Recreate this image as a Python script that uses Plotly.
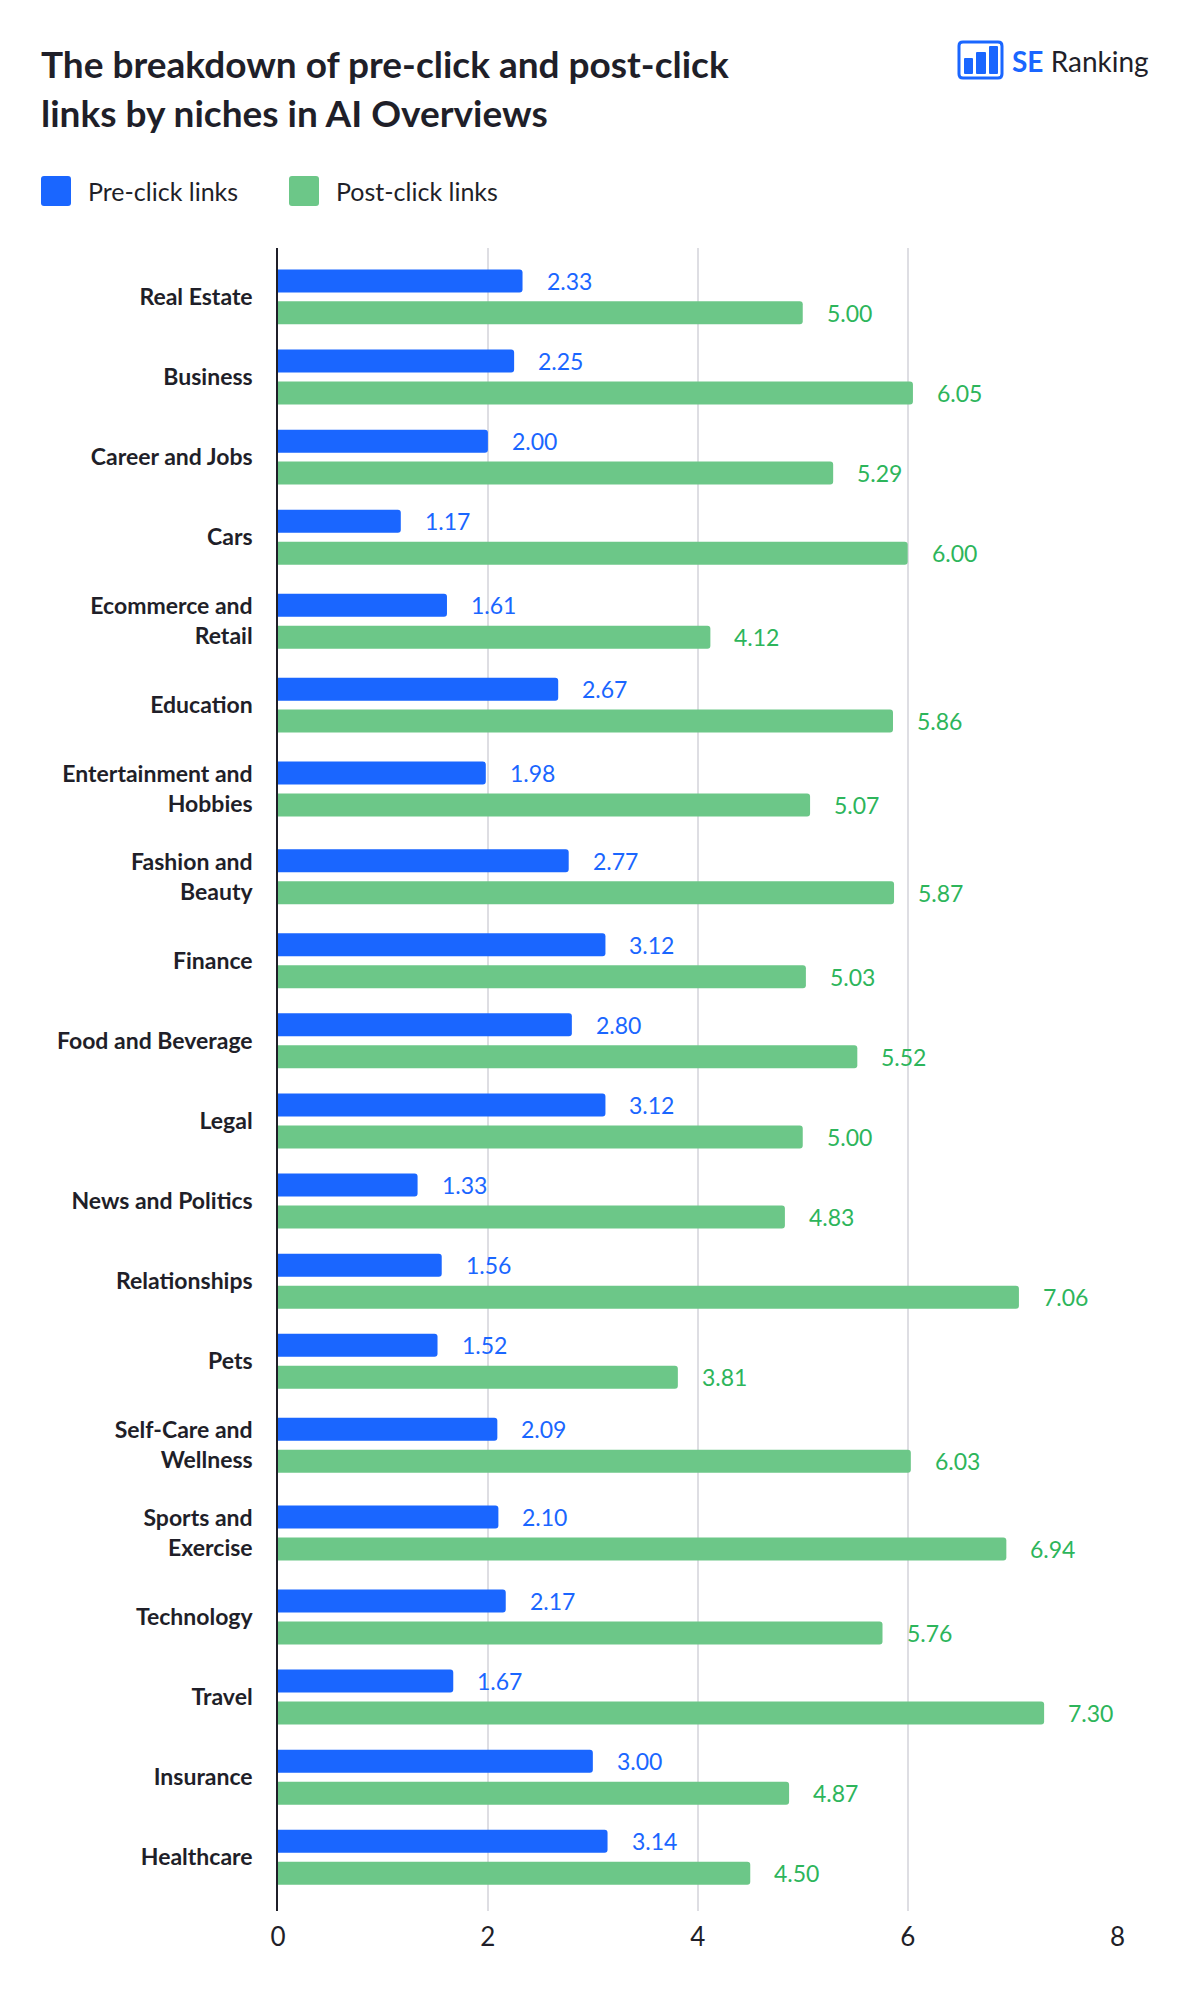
import plotly.graph_objects as go

# ---------------- data ----------------
categories = ["Real Estate", "Business", "Career and Jobs", "Cars",
              "Ecommerce and Retail", "Education", "Entertainment and Hobbies",
              "Fashion and Beauty", "Finance", "Food and Beverage", "Legal",
              "News and Politics", "Relationships", "Pets",
              "Self-Care and Wellness", "Sports and Exercise", "Technology",
              "Travel", "Insurance", "Healthcare"]
tick_labels = ["Real Estate", "Business", "Career and Jobs", "Cars",
               "Ecommerce and<br>Retail", "Education", "Entertainment and<br>Hobbies",
               "Fashion and<br>Beauty", "Finance", "Food and Beverage", "Legal",
               "News and Politics", "Relationships", "Pets",
               "Self-Care and<br>Wellness", "Sports and<br>Exercise", "Technology",
               "Travel", "Insurance", "Healthcare"]
pre_click = [2.33, 2.25, 2.00, 1.17, 1.61, 2.67, 1.98, 2.77, 3.12, 2.80,
             3.12, 1.33, 1.56, 1.52, 2.09, 2.10, 2.17, 1.67, 3.00, 3.14]
post_click = [5.00, 6.05, 5.29, 6.00, 4.12, 5.86, 5.07, 5.87, 5.03, 5.52,
              5.00, 4.83, 7.06, 3.81, 6.03, 6.94, 5.76, 7.30, 4.87, 4.50]
x_ticks = [0, 2, 4, 6, 8]

series_names = ["Pre-click links", "Post-click links"]

# ---------------- style ----------------
BLUE = "#1A66FF"
GREEN = "#6CC788"
GREEN_TXT = "#2DB55B"
DARK = "#1F1F29"
GRID = "#DEDEE3"
FONT = "Lato"

W, H = 1190, 1998
PL, PR, PT, PB = 278, 1118, 248, 1911   # plot area in pixels


def px2x(px):
    return (px - PL) / (PR - PL)


def py2y(py):
    return (PB - py) / (PB - PT)


def rr_path(x0, y0, x1, y1, r):
    """rounded rectangle path in paper coords from pixel coords"""
    pts = [
        ("M", [(x0 + r, y0)]),
        ("L", [(x1 - r, y0)]),
        ("Q", [(x1, y0), (x1, y0 + r)]),
        ("L", [(x1, y1 - r)]),
        ("Q", [(x1, y1), (x1 - r, y1)]),
        ("L", [(x0 + r, y1)]),
        ("Q", [(x0, y1), (x0, y1 - r)]),
        ("L", [(x0, y0 + r)]),
        ("Q", [(x0, y0), (x0 + r, y0)]),
    ]
    s = ""
    for cmd, ps in pts:
        s += cmd + " " + " ".join(f"{px2x(a):.5f},{py2y(b):.5f}" for a, b in ps) + " "
    return s + "Z"


# category band positions: two-line labels take a bit more room
band = [1.095 if "<br>" in t else 1.0 for t in tick_labels]
pos = [0.0]
for i in range(1, len(band)):
    pos.append(pos[-1] + (band[i - 1] + band[i]) / 2)

BAR_W = 0.287
GAP = 0.112

fig = go.Figure()
fig.add_trace(go.Bar(
    x=pre_click, y=pos, orientation="h", name=series_names[0],
    marker=dict(color=BLUE, cornerradius=3, line=dict(width=0)),
    width=BAR_W, offset=-(GAP / 2 + BAR_W), hoverinfo="x+name",
))
fig.add_trace(go.Bar(
    x=post_click, y=pos, orientation="h", name=series_names[1],
    marker=dict(color=GREEN, cornerradius=3, line=dict(width=0)),
    width=BAR_W, offset=GAP / 2, hoverinfo="x+name",
))

annotations = []
for p, v in zip(pos, pre_click):
    annotations.append(dict(x=v, y=p - GAP / 2 - BAR_W / 2, xref="x", yref="y",
                            text=f"{v:.2f}", showarrow=False, xanchor="left",
                            yanchor="middle", xshift=22,
                            font=dict(family=FONT, size=23, color=BLUE)))
for p, v in zip(pos, post_click):
    annotations.append(dict(x=v, y=p + GAP / 2 + BAR_W / 2, xref="x", yref="y",
                            text=f"{v:.2f}", showarrow=False, xanchor="left",
                            yanchor="middle", xshift=22,
                            font=dict(family=FONT, size=23, color=GREEN_TXT)))

# title
annotations.append(dict(x=px2x(39), y=py2y(64), xref="paper", yref="paper",
                        text="<b>The breakdown of pre-click and post-click</b>",
                        showarrow=False, xanchor="left", yanchor="middle",
                        font=dict(family=FONT, size=37, color=DARK)))
annotations.append(dict(x=px2x(39), y=py2y(112), xref="paper", yref="paper",
                        text="<b>links by niches in AI Overviews</b>",
                        showarrow=False, xanchor="left", yanchor="middle",
                        font=dict(family=FONT, size=37, color=DARK)))
# legend texts
annotations.append(dict(x=px2x(86), y=py2y(191), xref="paper", yref="paper",
                        text=series_names[0], showarrow=False, xanchor="left",
                        yanchor="middle", font=dict(family=FONT, size=25, color=DARK)))
annotations.append(dict(x=px2x(334), y=py2y(191), xref="paper", yref="paper",
                        text=series_names[1], showarrow=False, xanchor="left",
                        yanchor="middle", font=dict(family=FONT, size=25, color=DARK)))
# logo text
annotations.append(dict(x=px2x(1010), y=py2y(61), xref="paper", yref="paper",
                        text=f"<span style='color:{BLUE}'><b>SE</b></span> Ranking",
                        showarrow=False, xanchor="left", yanchor="middle",
                        font=dict(family=FONT, size=28, color=DARK)))

shapes = [
    dict(type="path", xref="paper", yref="paper", path=rr_path(41, 176, 71, 206, 3),
         fillcolor=BLUE, line=dict(width=0)),
    dict(type="path", xref="paper", yref="paper", path=rr_path(289, 176, 319, 206, 3),
         fillcolor=GREEN, line=dict(width=0)),
    # logo icon
    dict(type="path", xref="paper", yref="paper", path=rr_path(959, 42, 1002, 78, 4),
         fillcolor="rgba(0,0,0,0)", line=dict(width=3, color=BLUE)),
    dict(type="path", xref="paper", yref="paper", path=rr_path(964, 58, 973, 74, 1),
         fillcolor=BLUE, line=dict(width=0)),
    dict(type="path", xref="paper", yref="paper", path=rr_path(976, 52, 986, 74, 1),
         fillcolor=BLUE, line=dict(width=0)),
    dict(type="path", xref="paper", yref="paper", path=rr_path(989, 46, 998, 74, 1),
         fillcolor=BLUE, line=dict(width=0)),
]

fig.update_layout(
    width=W, height=H, autosize=False,
    margin=dict(l=PL, r=W - PR, t=PT, b=H - PB, pad=0),
    paper_bgcolor="white", plot_bgcolor="white",
    barmode="overlay", showlegend=False,
    font=dict(family=FONT, color=DARK),
    annotations=annotations, shapes=shapes,
    xaxis=dict(range=[0, 8.004], tickvals=x_ticks, ticktext=[str(t) for t in x_ticks],
               showgrid=True, gridcolor=GRID, gridwidth=1.5, zeroline=False,
               showline=False, ticks="", tickfont=dict(family=FONT, size=26, color=DARK),
               ticklabelstandoff=8, fixedrange=True),
    yaxis=dict(range=[pos[-1] + 0.67, -0.61], tickvals=pos,
               ticktext=[f"<b>{t}</b>" for t in tick_labels],
               showgrid=False, zeroline=False, showline=True, linecolor=DARK,
               linewidth=1.5, ticks="", ticklabelstandoff=19,
               tickfont=dict(family=FONT, size=23, color=DARK), fixedrange=True),
)

fig.write_html("out.html")
